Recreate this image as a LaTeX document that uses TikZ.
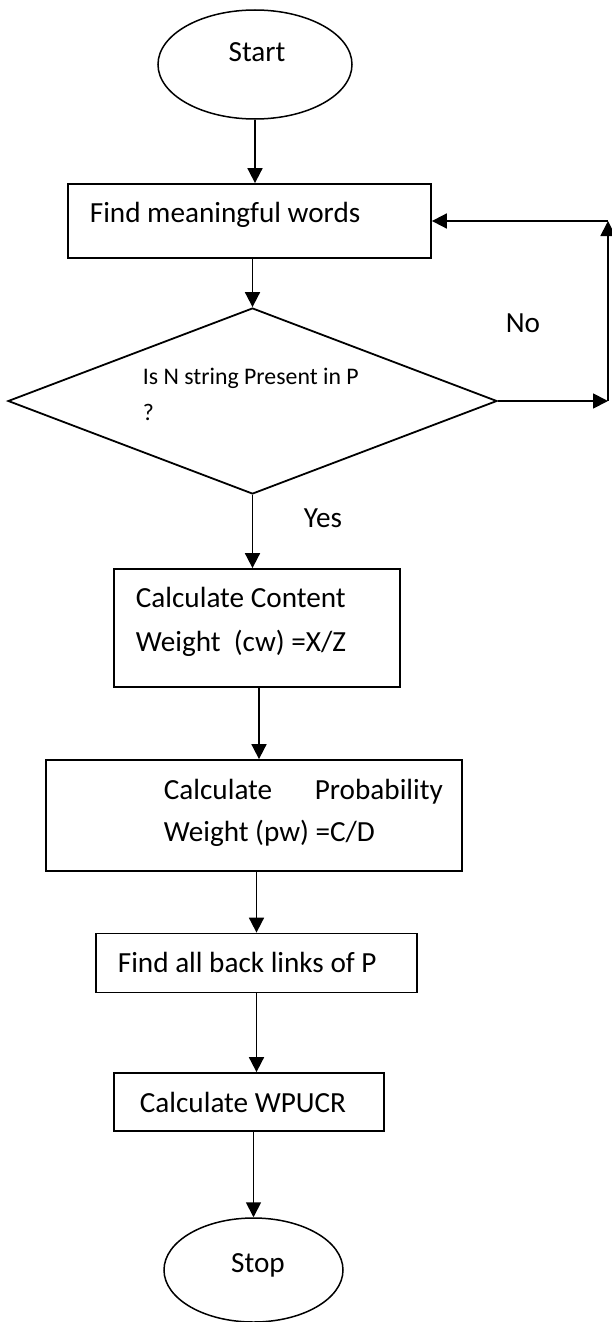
\documentclass[tikz,border=0pt]{standalone}
\usepackage{fontspec}
\setmainfont{Carlito}
\usetikzlibrary{arrows.meta,shapes.geometric}
\begin{document}
\begin{tikzpicture}[x=1pt,y=-1pt,
  line width=1.8pt,
  boxnode/.style={draw, rectangle, inner sep=0pt},
  ovalnode/.style={draw, ellipse, inner sep=0pt, line width=1.5pt},
  txt/.style={inner sep=0pt, anchor=base west, font=\fontsize{29.2}{44}\selectfont},
  ctxt/.style={inner sep=0pt, anchor=base, font=\fontsize{29.2}{44}\selectfont},
  smalltxt/.style={inner sep=0pt, anchor=base west, align=left, font=\fontsize{23.8}{36}\selectfont},
  arr/.style={-{Triangle[length=15pt,width=15pt]}, line width=1.8pt}
]
\useasboundingbox (0,0) rectangle (611,1322);

% shapes
\node[ovalnode, minimum width=194pt, minimum height=109pt] (start) at (255,64.5) {};
\node[boxnode, minimum width=363pt, minimum height=74pt] (b1) at (249.5,221) {};
\node[draw, diamond, inner sep=0pt, minimum width=489pt, minimum height=186pt] (d) at (252.5,401) {};
\node[boxnode, minimum width=286pt, minimum height=118pt] (b2) at (257,628) {};
\node[boxnode, minimum width=416pt, minimum height=111pt] (b3) at (254,815.5) {};
\node[boxnode, minimum width=321pt, minimum height=59pt] (b4) at (256.5,963) {};
\node[boxnode, minimum width=270pt, minimum height=58pt] (b5) at (249,1102) {};
\node[ovalnode, minimum width=179pt, minimum height=104pt] (stop) at (253.5,1270) {};

% texts
\node[ctxt] (tstart) at (257,62) {Start};
\node[txt] (t1) at (89,222) {Find meaningful words};
\node[smalltxt] (td1) at (142,384) {Is N string Present in P};
\node[smalltxt] (td2) at (142,420) {?};
\node[txt] (t2a) at (135,607) {Calculate Content};
\node[txt] (t2b) at (135,651) {Weight\ \ (cw) =X/Z};
\node[txt] (t3a) at (163,799) {\makebox[279pt][l]{Calculate\hfill Probability}};
\node[txt] (t3b) at (163,841) {Weight (pw) =C/D};
\node[txt] (t4) at (117,972) {Find all back links of P};
\node[txt] (t5) at (139,1112) {Calculate WPUCR};
\node[ctxt] (tstop) at (258,1272) {Stop};
\node[ctxt] (tno) at (523,332) {No};
\node[ctxt] (tyes) at (323,527) {Yes};

% connectors
\draw[arr] (start.south) -- (start.south |- b1.north);
\draw[arr] (b1.south -| d.north) -- (d.north);
\draw[arr] (d.south) -- (d.south |- b2.north);
\draw[arr] ([xshift=2pt]b2.south) -- ([xshift=2pt]b2.south |- b3.north);
\draw[arr] (b3.south -| b4.north) -- (b4.north);
\draw[arr] (b4.south) -- (b4.south |- b5.north);
\draw[arr] (b5.south -| stop.north) -- (stop.north);

\coordinate (c1) at (608,401);
\coordinate (c2) at (608,221);
\draw[arr] (d.east) -- (c1);
\draw[arr] (c1) -- (c2);
\draw[arr] (c2) -- (b1.east);
\end{tikzpicture}
\end{document}
